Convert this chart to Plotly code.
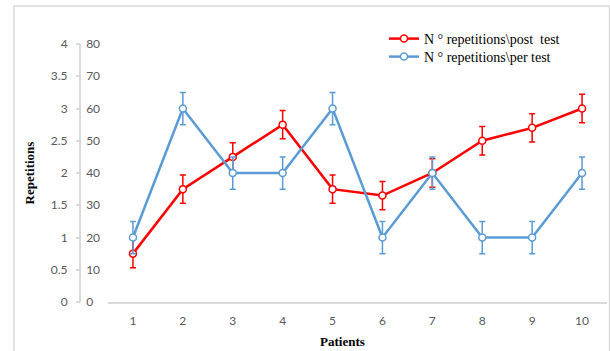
import plotly.graph_objects as go

W, H = 610, 351

patients = [1, 2, 3, 4, 5, 6, 7, 8, 9, 10]
post_test = [0.75, 1.75, 2.25, 2.75, 1.75, 1.65, 2.0, 2.5, 2.7, 3.0]
pre_test = [1.0, 3.0, 2.0, 2.0, 3.0, 1.0, 2.0, 1.0, 1.0, 2.0]
post_err = [0.22] * 10
pre_err = [0.25] * 10

left_ticks = [0, 0.5, 1, 1.5, 2, 2.5, 3, 3.5, 4]
left_labels = ["0", "0.5", "1", "1.5", "2", "2.5", "3", "3.5", "4"]
right_labels = ["0", "10", "20", "30", "40", "50", "60", "70", "80"]

RED = "#FF0000"
BLUE = "#5B9BD5"
GRAY_TXT = "#595959"
GRID = "#D9D9D9"


def px_x(p):
    return p / W


def px_y(p):
    return (H - p) / H


fig = go.Figure()

fig.add_trace(go.Scatter(
    x=patients, y=post_test, name="N ° repetitions\\post  test",
    mode="lines+markers", legend="legend",
    line=dict(color=RED, width=2.5),
    marker=dict(symbol="circle", size=7, color="white",
                line=dict(color=RED, width=1.5)),
    error_y=dict(type="data", array=post_err, color=RED,
                 thickness=1.5, width=3),
))
fig.add_trace(go.Scatter(
    x=patients, y=pre_test, name="N ° repetitions\\per test",
    mode="lines+markers", legend="legend2",
    line=dict(color=BLUE, width=2.5),
    marker=dict(symbol="circle", size=7, color="white",
                line=dict(color=BLUE, width=1.5)),
    error_y=dict(type="data", array=pre_err, color=BLUE,
                 thickness=1.5, width=3),
))

tick_font = dict(family="Lato, Liberation Sans, sans-serif", size=12, color=GRAY_TXT)
title_font = dict(family="Liberation Serif, Times New Roman, serif", size=13, color="#000000")
legend_font = dict(family="Liberation Serif, Times New Roman, serif", size=14, color="#000000")


def legend_box(top_px):
    return dict(
        x=px_x(384), y=px_y(top_px), xanchor="left", yanchor="top",
        bgcolor="rgba(0,0,0,0)", font=legend_font, itemwidth=30,
    )


fig.update_layout(
    width=W, height=H,
    margin=dict(l=0, r=0, t=0, b=0, autoexpand=False),
    paper_bgcolor="white", plot_bgcolor="white",
    showlegend=True,
    legend=legend_box(23),
    legend2=legend_box(41),
    xaxis=dict(
        domain=[px_x(108), px_x(607)],
        range=[0.5, 10.5],
        tickvals=patients, ticktext=[str(p) for p in patients],
        showgrid=False, zeroline=False,
        showline=True, linecolor=GRID, linewidth=1.5,
        ticks="", ticklabelstandoff=7,
        tickfont=tick_font, automargin=False,
        anchor="y",
    ),
    # data axis, 0-4 scale, labels on the far left
    yaxis=dict(
        domain=[px_y(302), px_y(44)],
        range=[0, 4],
        tickvals=left_ticks, ticktext=left_labels,
        showgrid=False, zeroline=False, showline=False,
        ticks="outside", ticklen=4, tickcolor=GRID, tickwidth=1.5,
        ticklabelstandoff=6,
        tickfont=tick_font, automargin=False,
        anchor="free", position=px_x(80), side="left",
        title=dict(text="<b>Repetitions</b>", font=title_font, standoff=12),
    ),
    # companion 0-80 scale drawn on the same vertical line
    yaxis2=dict(
        domain=[px_y(302), px_y(44)],
        range=[0, 80],
        tickvals=[v * 20 for v in left_ticks], ticktext=right_labels,
        overlaying="y", anchor="free", position=px_x(80), side="right",
        showgrid=False, zeroline=False,
        showline=True, linecolor=GRID, linewidth=1.5,
        ticks="", ticklabelstandoff=3,
        tickfont=tick_font, automargin=False,
    ),
    annotations=[dict(
        text="<b>Patients</b>", xref="paper", yref="paper",
        x=px_x(342), y=px_y(341), xanchor="center", yanchor="middle",
        showarrow=False, font=title_font,
    )],
    shapes=[dict(
        type="rect", xref="paper", yref="paper",
        x0=px_x(14), x1=px_x(609.5), y0=-0.05, y1=px_y(6),
        line=dict(color=GRID, width=1.5), fillcolor="rgba(0,0,0,0)",
        layer="below",
    )],
)

# invisible trace so the 0-80 axis is rendered
fig.add_trace(go.Scatter(x=[None], y=[None], yaxis="y2", showlegend=False,
                         hoverinfo="skip"))

fig.write_html("out.html")
